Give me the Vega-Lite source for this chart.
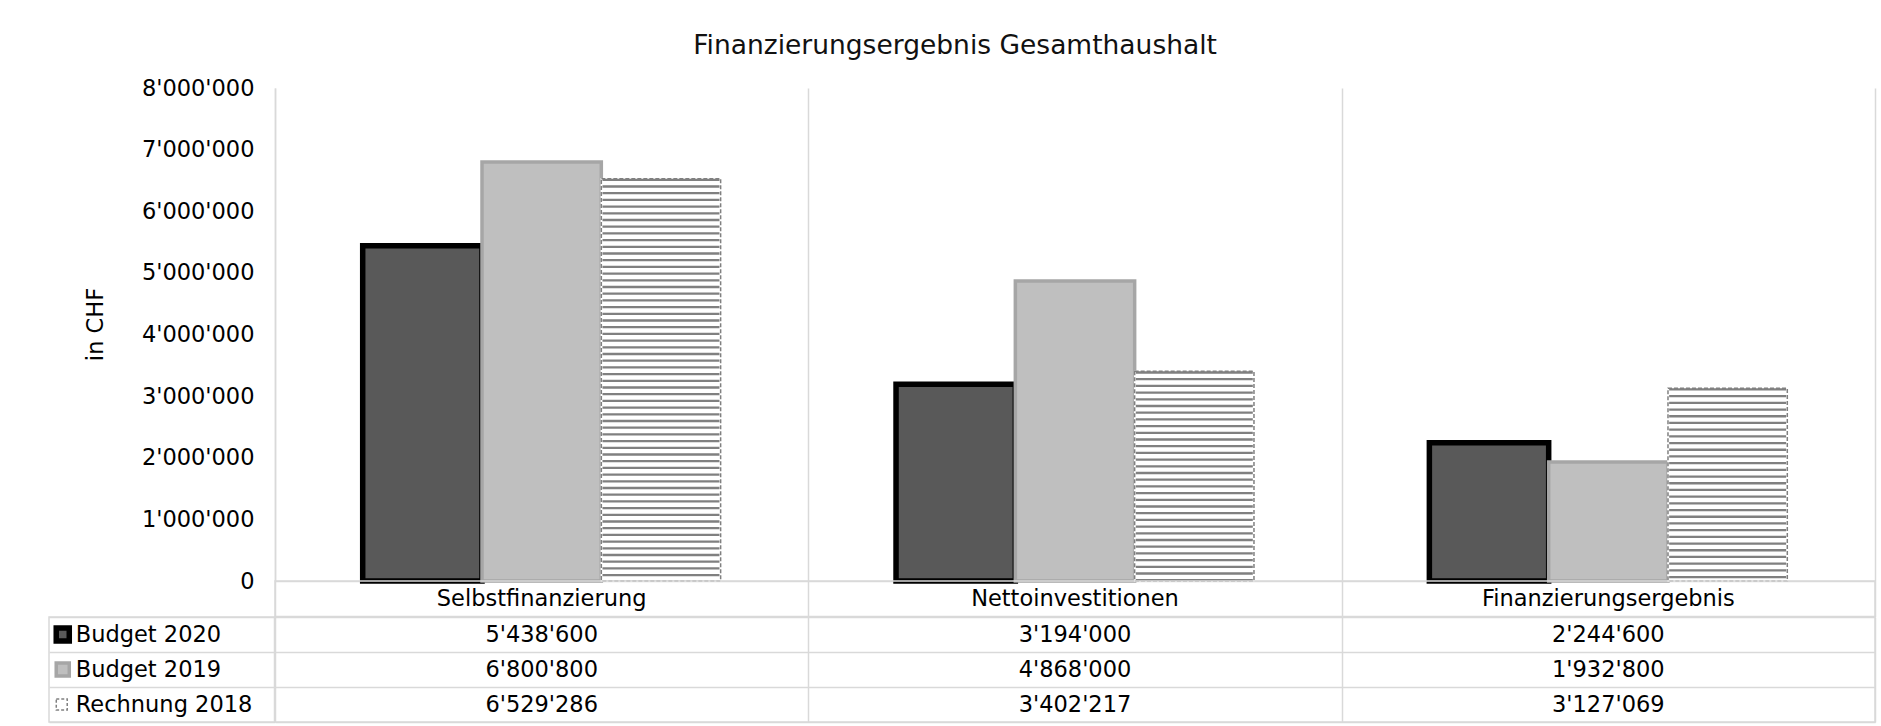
{
  "$schema": "https://vega.github.io/schema/vega-lite/v6.json",
  "background": "white",
  "padding": {"left": 44, "top": 32, "right": 6, "bottom": 4},
  "title": {
    "text": "Finanzierungsergebnis Gesamthaushalt",
    "font": "DejaVu Sans",
    "fontSize": 26.5,
    "fontWeight": "normal",
    "color": "#111111",
    "anchor": "middle",
    "frame": "bounds",
    "offset": 18,
    "dx": -5
  },
  "config": {
    "locale": {"number": {"decimal": ".", "thousands": "'", "grouping": [3], "currency": ["", ""]}},
    "font": "DejaVu Sans",
    "view": {"stroke": "#d9d9d9", "strokeWidth": 1.5},
    "text": {"font": "DejaVu Sans", "fontSize": 22.5, "color": "#000000"},
    "axis": {
      "labelFont": "DejaVu Sans",
      "titleFont": "DejaVu Sans",
      "labelColor": "#000000",
      "titleColor": "#000000",
      "gridColor": "#d9d9d9",
      "gridWidth": 1.5,
      "domainColor": "#d9d9d9",
      "domainWidth": 1.5
    }
  },
  "datasets": {
    "main": [
      {"category": "Selbstfinanzierung", "series": "Budget 2020", "value": 5438600},
      {"category": "Selbstfinanzierung", "series": "Budget 2019", "value": 6800800},
      {"category": "Selbstfinanzierung", "series": "Rechnung 2018", "value": 6529286},
      {"category": "Nettoinvestitionen", "series": "Budget 2020", "value": 3194000},
      {"category": "Nettoinvestitionen", "series": "Budget 2019", "value": 4868000},
      {"category": "Nettoinvestitionen", "series": "Rechnung 2018", "value": 3402217},
      {"category": "Finanzierungsergebnis", "series": "Budget 2020", "value": 2244600},
      {"category": "Finanzierungsergebnis", "series": "Budget 2019", "value": 1932800},
      {"category": "Finanzierungsergebnis", "series": "Rechnung 2018", "value": 3127069}
    ]
  },
  "columns": 2,
  "spacing": 0,
  "bounds": "flush",
  "concat": [
    {
      "width": 225.5,
      "height": 493,
      "view": {"stroke": null},
      "data": {"values": [{}]},
      "mark": {"type": "text", "text": ""},
      "encoding": {}
    },
    {
      "width": 1600,
      "height": 493,
      "view": {"stroke": null},
      "data": {"name": "main"},
      "encoding": {
        "x": {
          "field": "category",
          "type": "nominal",
          "sort": ["Selbstfinanzierung", "Nettoinvestitionen", "Finanzierungsergebnis"],
          "scale": {"paddingInner": 0, "paddingOuter": 0},
          "axis": {"title": null, "labels": false, "ticks": false, "domain": true, "grid": true, "tickBand": "extent"}
        },
        "xOffset": {
          "field": "series",
          "type": "nominal",
          "sort": ["Budget 2020", "Budget 2019", "Rechnung 2018"],
          "scale": {"paddingInner": 0, "paddingOuter": 0.735}
        },
        "y": {
          "field": "value",
          "type": "quantitative",
          "scale": {"domain": [0, 8000000], "nice": false},
          "axis": {
            "title": "in CHF",
            "titleFontSize": 22.5,
            "titleFontWeight": "normal",
            "titlePadding": 34,
            "titleY": 236,
            "labelFontSize": 22.5,
            "labelPadding": 21,
            "labelFlush": false,
            "labelOverlap": false,
            "values": [0, 1000000, 2000000, 3000000, 4000000, 5000000, 6000000, 7000000, 8000000],
            "format": ",d",
            "ticks": false,
            "grid": false,
            "domain": true
          }
        }
      },
      "layer": [
        {
          "mark": {"type": "bar"},
          "encoding": {
            "fill": {
              "field": "series",
              "type": "nominal",
              "scale": {"domain": ["Budget 2020", "Budget 2019", "Rechnung 2018"], "range": ["#595959", "#bfbfbf", "#ffffff"]},
              "legend": null
            },
            "stroke": {
              "field": "series",
              "type": "nominal",
              "scale": {"domain": ["Budget 2020", "Budget 2019", "Rechnung 2018"], "range": ["#000000", "#a6a6a6", "#ffffff"]},
              "legend": null
            },
            "strokeWidth": {
              "field": "series",
              "type": "nominal",
              "scale": {"domain": ["Budget 2020", "Budget 2019", "Rechnung 2018"], "range": [5.5, 1.5, 0.1]},
              "legend": null
            }
          }
        },
        {
          "transform": [{"filter": "datum.series === 'Rechnung 2018'"}],
          "mark": {"type": "rule", "strokeWidth": 117, "strokeDash": [2.3, 4.4], "color": "#808080"},
          "encoding": {
            "y2": {"datum": 0}
          }
        },
        {
          "transform": [{"filter": "datum.series === 'Rechnung 2018'"}],
          "mark": {"type": "bar", "fill": null, "fillOpacity": 0, "stroke": "#808080", "strokeWidth": 1.5, "strokeDash": [4, 2]},
          "encoding": {}
        }
      ]
    },
    {
      "width": 225.5,
      "height": 35.5,
      "view": {"stroke": null},
      "data": {"values": [{}]},
      "mark": {"type": "text", "text": ""},
      "encoding": {}
    },
    {
      "width": 1600,
      "height": 35.5,
      "data": {"name": "main"},
      "transform": [{"filter": "datum.series === 'Budget 2020'"}],
      "mark": {"type": "text", "baseline": "middle", "align": "center"},
      "encoding": {
        "x": {
          "field": "category",
          "type": "nominal",
          "sort": ["Selbstfinanzierung", "Nettoinvestitionen", "Finanzierungsergebnis"],
          "scale": {"paddingInner": 0, "paddingOuter": 0},
          "axis": {"title": null, "labels": false, "ticks": false, "domain": false, "grid": true, "tickBand": "extent"}
        },
        "text": {"field": "category", "type": "nominal"}
      }
    },
    {
      "width": 225.5,
      "height": 105,
      "data": {"name": "main"},
      "transform": [{"filter": "datum.category === 'Selbstfinanzierung'"}],
      "encoding": {
        "y": {
          "field": "series",
          "type": "nominal",
          "sort": ["Budget 2020", "Budget 2019", "Rechnung 2018"],
          "scale": {"paddingInner": 0, "paddingOuter": 0},
          "axis": {"title": null, "labels": false, "ticks": false, "domain": false, "grid": true, "tickBand": "extent"}
        }
      },
      "layer": [
        {
          "transform": [{"filter": "datum.series !== 'Rechnung 2018'"}],
          "mark": {"type": "point", "shape": "square", "size": 170, "filled": true, "opacity": 1, "xOffset": -99},
          "encoding": {
            "fill": {
              "field": "series",
              "type": "nominal",
              "scale": {"domain": ["Budget 2020", "Budget 2019"], "range": ["#595959", "#bfbfbf"]},
              "legend": null
            },
            "stroke": {
              "field": "series",
              "type": "nominal",
              "scale": {"domain": ["Budget 2020", "Budget 2019"], "range": ["#000000", "#a6a6a6"]},
              "legend": null
            },
            "strokeWidth": {
              "field": "series",
              "type": "nominal",
              "scale": {"domain": ["Budget 2020", "Budget 2019"], "range": [5, 1.5]},
              "legend": null
            }
          }
        },
        {
          "transform": [{"filter": "datum.series === 'Rechnung 2018'"}],
          "mark": {"type": "point", "shape": "square", "size": 120, "filled": false, "opacity": 1, "fill": "#ffffff", "fillOpacity": 1, "stroke": "#808080", "strokeWidth": 1.5, "strokeDash": [3, 2], "xOffset": -100},
          "encoding": {}
        },
        {
          "mark": {"type": "text", "align": "left", "baseline": "middle", "dx": -86},
          "encoding": {
            "text": {"field": "series", "type": "nominal"}
          }
        }
      ]
    },
    {
      "width": 1600,
      "height": 105,
      "data": {"name": "main"},
      "mark": {"type": "text", "baseline": "middle", "align": "center"},
      "encoding": {
        "x": {
          "field": "category",
          "type": "nominal",
          "sort": ["Selbstfinanzierung", "Nettoinvestitionen", "Finanzierungsergebnis"],
          "scale": {"paddingInner": 0, "paddingOuter": 0},
          "axis": {"title": null, "labels": false, "ticks": false, "domain": false, "grid": true, "tickBand": "extent"}
        },
        "y": {
          "field": "series",
          "type": "nominal",
          "sort": ["Budget 2020", "Budget 2019", "Rechnung 2018"],
          "scale": {"paddingInner": 0, "paddingOuter": 0},
          "axis": {"title": null, "labels": false, "ticks": false, "domain": false, "grid": true, "tickBand": "extent"}
        },
        "text": {"field": "value", "type": "quantitative", "format": ",d"}
      }
    }
  ]
}
